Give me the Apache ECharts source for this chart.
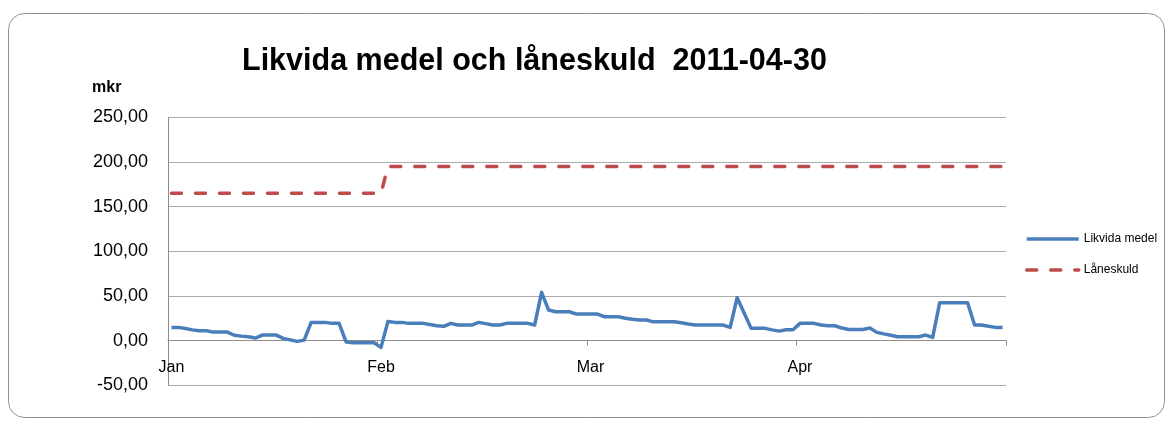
<!DOCTYPE html>
<html>
<head>
<meta charset="utf-8">
<script src="https://cdn.jsdelivr.net/npm/echarts@6/dist/echarts.min.js"></script>
<style>
html, body { margin: 0; padding: 0; background: #fff; }
#chart { width: 1170px; height: 424px; }
</style>
</head>
<body>
<div id="chart"></div>
<script>
// manader pa x-axeln, 30 punkter per manad
var monthLabels = ['Jan', 'Feb', 'Mar', 'Apr'];
var yTicks = [-50, 0, 50, 100, 150, 200, 250];

// Likvida medel (mkr)
var likvidaJan = [14.8, 14.8, 13.5, 12, 11, 11, 9.5, 9.5, 9.5, 6, 5, 4.3, 2.8, 6.2, 6.2, 6.2, 2.5, 0.8, -0.9, 0.5, 20.4, 20.4, 20.4, 19.3, 19.3, -1.5, -2.5, -2.5, -2.5, -2.5];
var likvidaFeb = [-7.6, 21.5, 20.4, 20.4, 19.3, 19.3, 19.3, 18, 16.6, 16, 19.3, 17.4, 17.4, 17.4, 20.4, 19, 17.4, 17.4, 19.3, 19.3, 19.3, 19.3, 17.4, 54, 34.2, 32.3, 32.3, 32.3, 29.7, 29.7];
var likvidaMar = [29.7, 29.7, 26.7, 26.7, 26.7, 25, 23.8, 23, 23, 21, 21, 21, 21, 20, 18.5, 17.4, 17.4, 17.4, 17.4, 17.4, 14.8, 48, 31, 13.7, 13.7, 13.7, 12, 10.6, 12.1, 12.1];
var likvidaApr = [19.3, 19.3, 19.3, 17.4, 16.6, 16.6, 14, 12.5, 12.5, 12.5, 14, 9.2, 7.5, 6, 4.3, 4.3, 4.3, 4.3, 6.2, 3.6, 42.4, 42.4, 42.4, 42.4, 42.4, 17.4, 17.4, 16, 14.8, 14.8];

// Laneskuld (mkr)
var laneJan = [165, 165, 165, 165, 165, 165, 165, 165, 165, 165, 165, 165, 165, 165, 165, 165, 165, 165, 165, 165, 165, 165, 165, 165, 165, 165, 165, 165, 165, 165];
var laneFeb = [165, 195, 195, 195, 195, 195, 195, 195, 195, 195, 195, 195, 195, 195, 195, 195, 195, 195, 195, 195, 195, 195, 195, 195, 195, 195, 195, 195, 195, 195];
var laneMar = [195, 195, 195, 195, 195, 195, 195, 195, 195, 195, 195, 195, 195, 195, 195, 195, 195, 195, 195, 195, 195, 195, 195, 195, 195, 195, 195, 195, 195, 195];
var laneApr = [195, 195, 195, 195, 195, 195, 195, 195, 195, 195, 195, 195, 195, 195, 195, 195, 195, 195, 195, 195, 195, 195, 195, 195, 195, 195, 195, 195, 195, 195];

var likvidaData = likvidaJan.concat(likvidaFeb, likvidaMar, likvidaApr);
var laneData = laneJan.concat(laneFeb, laneMar, laneApr);

var xData = [];
for (var m = 0; m < monthLabels.length; m++) {
	for (var d = 0; d < likvidaJan.length; d++) {
		xData.push(monthLabels[m] + '-' + (d + 1));
	}
}

var chart = echarts.init(document.getElementById('chart'));

var option = {
	animation: false,
	title: {
		text: 'Likvida medel och låneskuld  2011-04-30',
		left: 237,
		top: 41,
		textStyle: {
			fontFamily: 'Liberation Sans',
			fontWeight: 'bold',
			fontSize: 30.5,
			color: '#000'
		}
	},
	graphic: [{
		type: 'rect',
		shape: { x: 8.5, y: 13.5, width: 1156, height: 404, r: 16 },
		style: { fill: 'none', stroke: '#8f8f8f', lineWidth: 1 },
		silent: true
	}, {
		type: 'text',
		left: 92,
		top: 80,
		style: {
			text: 'mkr',
			font: 'bold 16px "Liberation Sans"',
			fill: '#000'
		}
	}],
	legend: {
		orient: 'vertical',
		left: 1020,
		top: 228,
		itemWidth: 52,
		itemHeight: 14,
		itemGap: 19,
		itemStyle: { opacity: 0 },
		lineStyle: { width: 3.5 },
		textStyle: {
			fontFamily: 'Liberation Sans',
			fontSize: 12,
			color: '#000'
		},
		data: ['Likvida medel', {
			name: 'Låneskuld',
			lineStyle: { type: [10, 14], cap: 'round', width: 3.5 }
		}]
	},
	grid: {
		left: 168,
		right: 164,
		top: 117.5,
		bottom: 38.8,
		containLabel: false
	},
	xAxis: {
		type: 'category',
		data: xData,
		boundaryGap: true,
		axisLine: {
			onZero: true,
			lineStyle: { color: '#8c8c8c', width: 1 }
		},
		axisTick: {
			show: true,
			interval: 29,
			length: 5,
			lineStyle: { color: '#8c8c8c' }
		},
		axisLabel: {
			interval: 29,
			margin: -26,
			fontFamily: 'Liberation Sans',
			fontSize: 16,
			color: '#000',
			formatter: function(value) {
				return value.split('-')[0];
			}
		},
		splitLine: { show: false }
	},
	yAxis: {
		type: 'value',
		min: yTicks[0],
		max: yTicks[yTicks.length - 1],
		interval: 50,
		axisLine: {
			show: true,
			lineStyle: { color: '#8c8c8c', width: 1 }
		},
		axisTick: { show: false },
		axisLabel: {
			margin: 20,
			fontFamily: 'Liberation Sans',
			fontSize: 18,
			color: '#000',
			formatter: function(v) {
				return v.toFixed(2).replace('.', ',');
			}
		},
		splitLine: {
			lineStyle: { color: '#ababab', width: 1 }
		}
	},
	series: [{
		name: 'Likvida medel',
		type: 'line',
		data: likvidaData,
		symbol: 'none',
		color: '#4a7ebb',
		lineStyle: { width: 3.5, color: '#4a7ebb', join: 'round' },
		z: 3
	}, {
		name: 'Låneskuld',
		type: 'line',
		data: laneData,
		symbol: 'none',
		color: '#be4b48',
		lineStyle: { width: 3.5, color: '#be4b48', type: [10, 14], cap: 'round' },
		z: 2
	}]
};

chart.setOption(option, true);
</script>
</body>
</html>
